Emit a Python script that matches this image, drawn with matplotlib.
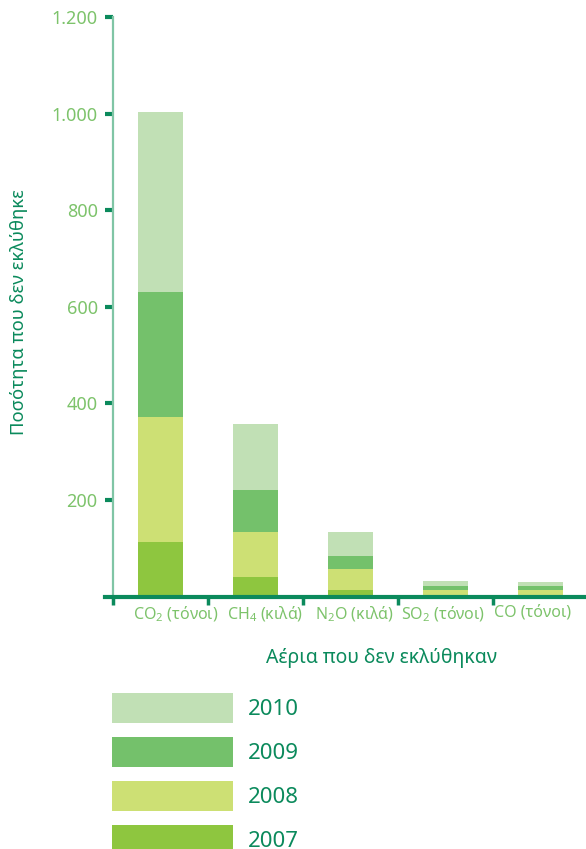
import matplotlib
matplotlib.use("Agg")
import matplotlib.pyplot as plt
import numpy as np

plt.rcParams['font.family'] = ['Noto Sans', 'DejaVu Sans']
plt.rcParams['mathtext.default'] = 'regular'

# ---- data ----
categories = ["CO$_2$ (τόνοι)", "CH$_4$ (κιλά)", "N$_2$O (κιλά)", "SO$_2$ (τόνοι)", "CO (τόνοι)"]
years = ["2007", "2008", "2009", "2010"]
v2007 = [113, 41, 14, 1, 1]
v2008 = [258, 93, 42, 13, 12]
v2009 = [259, 87, 27, 7, 8]
v2010 = [374, 137, 51, 12, 10]
yticks = [200, 400, 600, 800, 1000, 1200]
ytick_labels = ["200", "400", "600", "800", "1.000", "1.200"]
ylabel = "Ποσότητα που δεν εκλύθηκε"
xlabel = "Αέρια που δεν εκλύθηκαν"

colors = ["#8ec63f", "#cde074", "#74c16b", "#c1e0b5"]
dark = "#0b8a5c"
light_txt = "#7dc36b"
spine_col = "#80c5a5"

W, H = 586, 849
fig = plt.figure(figsize=(W / 100, H / 100), dpi=100)
ax = fig.add_axes([113 / W, (H - 596.5) / H, 473 / W, (596.5 - 17) / H])

x = np.arange(len(categories))
series = [v2007, v2008, v2009, v2010]
bottom = np.zeros(len(categories))
handles = []
for vals, col, yr in zip(series, colors, years):
    b = ax.bar(x, vals, bottom=bottom, width=0.47, color=col, linewidth=0, label=yr)
    handles.append(b)
    bottom += np.array(vals)

ax.set_xlim(-0.5, 4.48)
ax.set_ylim(0, 1200)

for s in ["top", "right", "bottom"]:
    ax.spines[s].set_visible(False)
ax.spines["left"].set_color(spine_col)
ax.spines["left"].set_linewidth(1.6)

ax.set_yticks(yticks)
ax.set_yticklabels(ytick_labels)
ax.tick_params(axis="y", direction="out", length=6, width=3, color=dark,
               labelcolor=light_txt, labelsize=13, pad=5)

# x axis: boundary ticks (major), labels on minor ticks
ax.set_xticks(np.arange(-0.5, 4.5, 1.0))
ax.set_xticklabels([])
ax.tick_params(axis="x", which="major", direction="out", length=6, width=2.5, color=dark)
label_pos = 0.16 + np.arange(len(categories)) * 0.94
ax.set_xticks(label_pos, minor=True)
ax.set_xticklabels(categories, minor=True)
ax.tick_params(axis="x", which="minor", length=0, labelcolor=light_txt, labelsize=11.5, pad=6)

ax.axhline(0, xmin=-0.017, xmax=1.0, color=dark, linewidth=3, clip_on=False, zorder=5)

fig.text(19.5 / W, (H - 312) / H, ylabel, rotation=90, ha="center", va="center",
         color=dark, fontsize=13.3)
fig.text(382 / W, (H - 658) / H, xlabel, ha="center", va="center",
         color=dark, fontsize=14)

fs = 16
fpx = fs * 100 / 72
rect_h = 30
hh = (rect_h / fpx - 0.35 * 0.7) / 0.65
leg = fig.legend(handles[::-1], years[::-1], loc="upper left",
                 bbox_to_anchor=(112 / W, (H - 693) / H), frameon=False,
                 borderpad=0, borderaxespad=0, fontsize=fs,
                 handlelength=121 / fpx, handleheight=hh,
                 labelspacing=14 / fpx, handletextpad=15 / fpx)
for t in leg.get_texts():
    t.set_color(dark)

fig.savefig("out.png", dpi=100)
